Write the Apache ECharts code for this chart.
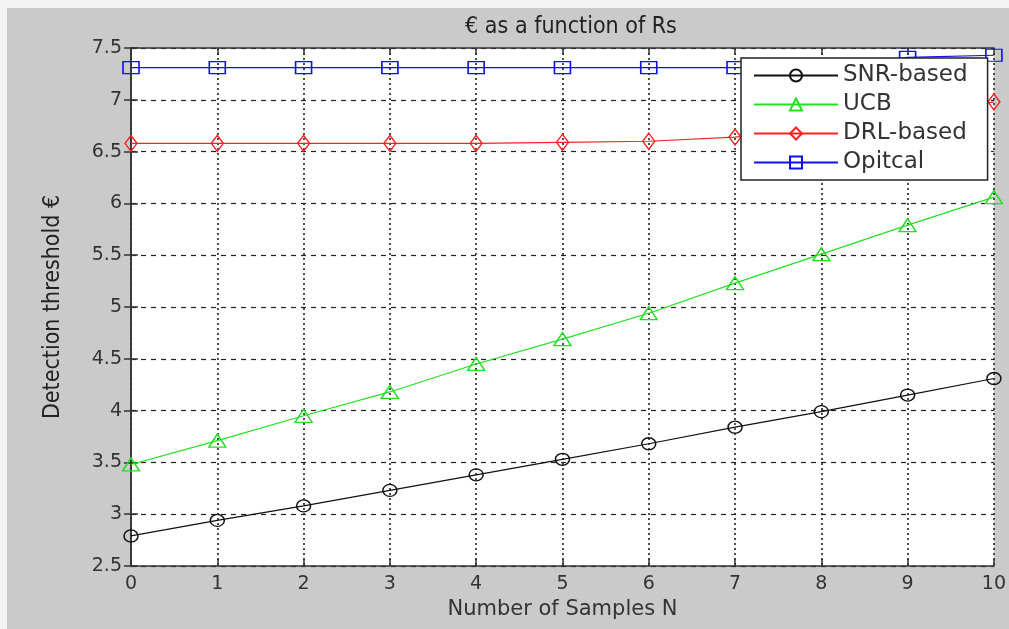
<!DOCTYPE html>
<html>
<head>
<meta charset="utf-8">
<script src="https://cdn.jsdelivr.net/npm/echarts@6/dist/echarts.min.js"></script>
<style>
html,body{margin:0;padding:0;background:#f4f4f4;}
#chart{width:1009px;height:629px;}
</style>
</head>
<body>
<div id="chart"></div>
<script>
const samplesN = [0, 1, 2, 3, 4, 5, 6, 7, 8, 9, 10];
const snrBased = [2.79, 2.94, 3.08, 3.23, 3.38, 3.53, 3.68, 3.84, 3.99, 4.15, 4.31];
const ucb = [3.48, 3.71, 3.95, 4.18, 4.45, 4.69, 4.94, 5.23, 5.51, 5.79, 6.06];
const drlBased = [6.58, 6.58, 6.58, 6.58, 6.58, 6.59, 6.60, 6.64, 6.72, 6.84, 6.98];
const opitcal = [7.31, 7.31, 7.31, 7.31, 7.31, 7.31, 7.31, 7.31, 7.31, 7.41, 7.43];
const seriesNames = ['SNR-based', 'UCB', 'DRL-based', 'Opitcal'];
const titleText = '€ as a function of Rs';
const xAxisName = 'Number of Samples N';
const yAxisName = 'Detection threshold €';

const pairs = arr => samplesN.map((x, i) => [x, arr[i]]);

const chart = echarts.init(document.getElementById('chart'), null, {renderer: 'canvas'});
const tickFont = {fontFamily: "'DejaVu Sans', sans-serif", fontSize: 19, color: '#333'};
const gridH = {show: true, lineStyle: {color: '#222', type: [5, 5], width: 1.2}};
const gridV = {show: true, lineStyle: {color: '#222', type: [2, 3], width: 1.6}};
const boxLine = {show: true, lineStyle: {color: '#333', width: 1.5}};
const inTick = {show: true, inside: true, length: 7, lineStyle: {color: '#333', width: 1.5}};

function mk(name, data, color, symbol, size) {
  return {
    name: name, type: 'line', data: pairs(data), symbol: symbol, symbolSize: size,
    showSymbol: true, z: 3,
    lineStyle: {color: color, width: 1.2},
    itemStyle: {color: 'rgba(255,255,255,0)', borderColor: color, borderWidth: 1.4},
    emphasis: {disabled: true}
  };
}

chart.setOption({
  animation: false,
  backgroundColor: '#f4f4f4',
  graphic: [{
    type: 'rect', left: 7, top: 8, z: -10,
    shape: {width: 1002, height: 621},
    style: {fill: '#cacaca'}
  }],
  title: {
    text: titleText, left: 566, top: 11, textAlign: 'center',
    textStyle: {fontFamily: "'Liberation Sans Narrow', 'DejaVu Sans Condensed', sans-serif",
      fontSize: 23, fontWeight: 'normal', color: '#222'}
  },
  grid: {left: 131, top: 48, right: 7, bottom: 63, show: true, backgroundColor: '#ffffff', borderWidth: 0},
  legend: {
    left: 741, top: 58, orient: 'vertical',
    backgroundColor: '#ffffff', borderColor: '#222', borderWidth: 1.5,
    padding: [6, 20, 6, 12], itemGap: 6, itemWidth: 84, itemHeight: 15,
    textStyle: {fontFamily: "'DejaVu Sans', sans-serif", fontSize: 23, color: '#333', lineHeight: 22},
    data: seriesNames
  },
  xAxis: [{
    type: 'value', min: 0, max: 10, interval: 1,
    name: xAxisName, nameLocation: 'middle', nameGap: 32,
    nameTextStyle: {fontFamily: "'DejaVu Sans', sans-serif", fontSize: 21, color: '#333'},
    axisLine: boxLine, axisTick: inTick,
    axisLabel: Object.assign({margin: 9}, tickFont),
    splitLine: gridV
  }, {
    type: 'value', min: 0, max: 10, interval: 1, position: 'top',
    axisLine: boxLine, axisTick: inTick, axisLabel: {show: false}, splitLine: {show: false}
  }],
  yAxis: [{
    type: 'value', min: 2.5, max: 7.5, interval: 0.5,
    name: yAxisName, nameLocation: 'middle', nameGap: 66, nameRotate: 90,
    nameTextStyle: {fontFamily: "'Liberation Sans Narrow', 'DejaVu Sans Condensed', sans-serif", fontSize: 23, color: '#222'},
    axisLine: boxLine, axisTick: inTick,
    axisLabel: Object.assign({margin: 9}, tickFont),
    splitLine: gridH
  }, {
    type: 'value', min: 2.5, max: 7.5, interval: 0.5, position: 'right',
    axisLine: boxLine, axisTick: inTick, axisLabel: {show: false}, splitLine: {show: false}
  }],
  series: [
    mk(seriesNames[0], snrBased, '#111111', 'circle', [14, 12]),
    mk(seriesNames[1], ucb, '#22e022', 'triangle', [17, 13]),
    mk(seriesNames[2], drlBased, '#ff2020', 'diamond', [12, 16]),
    mk(seriesNames[3], opitcal, '#1010ee', 'rect', [16, 12])
  ]
});
</script>
</body>
</html>
